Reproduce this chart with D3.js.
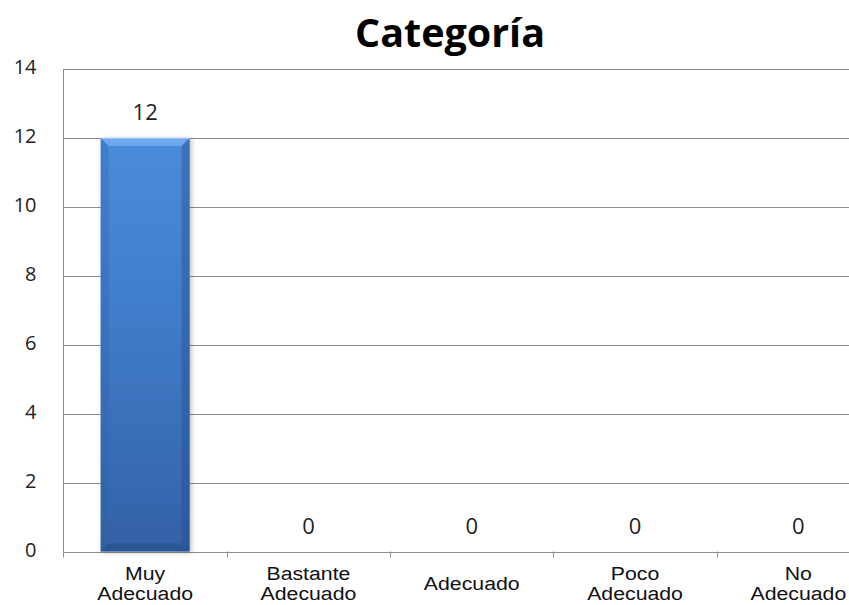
<!DOCTYPE html>
<html><head><meta charset="utf-8">
<script src="https://cdn.jsdelivr.net/npm/d3@7"></script>
<style>html,body{margin:0;padding:0;background:#fff;overflow:hidden}</style>
</head><body>
<svg id="chart" width="849" height="605"></svg>
<script>
const title = "Categoría";
const categories = [["Muy","Adecuado"],["Bastante","Adecuado"],["Adecuado"],["Poco","Adecuado"],["No","Adecuado"]];
const values = [12, 0, 0, 0, 0];
const yTicks = [0, 2, 4, 6, 8, 10, 12, 14];

(function(){
const svg = d3.select("#chart");
const pLeft = 63.5, pRight = 880, pTop = 69, pBottom = 551.5;
const x = d3.scaleBand().domain(d3.range(categories.length)).range([pLeft, pRight]).padding(0);
const y = d3.scaleLinear().domain([0, 14]).range([pBottom, pTop]);

const defs = svg.append("defs");
const g1 = defs.append("linearGradient").attr("id","barG").attr("x1",0).attr("y1",0).attr("x2",0).attr("y2",1);
g1.append("stop").attr("offset","0%").attr("stop-color","#4B8CDB");
g1.append("stop").attr("offset","45%").attr("stop-color","#3F7BC8");
g1.append("stop").attr("offset","100%").attr("stop-color","#3361A6");
const sh = defs.append("filter").attr("id","shadow").attr("x","-20%").attr("y","-5%").attr("width","140%").attr("height","110%");
sh.append("feGaussianBlur").attr("in","SourceAlpha").attr("stdDeviation",2.5);
sh.append("feOffset").attr("dx",1.5).attr("dy",1).attr("result","b");
sh.append("feComponentTransfer").append("feFuncA").attr("type","linear").attr("slope",0.25);
const m = sh.append("feMerge"); m.append("feMergeNode"); m.append("feMergeNode").attr("in","SourceGraphic");

// gridlines
svg.append("g").selectAll("line").data(yTicks).join("line")
  .attr("x1", pLeft).attr("x2", 849)
  .attr("y1", d => Math.round(y(d)) + 0.5).attr("y2", d => Math.round(y(d)) + 0.5)
  .attr("stroke", "#8c8c8c").attr("stroke-width", 1);

// y axis line
svg.append("line").attr("x1", pLeft).attr("x2", pLeft).attr("y1", pTop).attr("y2", pBottom + 6)
  .attr("stroke", "#8c8c8c");

// x tick marks
svg.append("g").selectAll("line").data(d3.range(1, categories.length)).join("line")
  .attr("x1", d => Math.round(x(d)) + 0.5).attr("x2", d => Math.round(x(d)) + 0.5)
  .attr("y1", pBottom).attr("y2", pBottom + 6).attr("stroke", "#8c8c8c");

// y tick labels
svg.append("g").selectAll("text").data(yTicks).join("text")
  .attr("x", 36.5).attr("y", d => y(d) - 1).attr("dy", "0.32em")
  .attr("text-anchor", "end")
  .attr("font-family", "'Open Sans', sans-serif").attr("font-size", 20)
  .attr("fill", "#222").text(d => d);

// bars
const bw = x.bandwidth() * 0.545;
values.forEach((d, i) => {
  if (d <= 0) return;
  const x0 = x(i) + (x.bandwidth() - bw) / 2, x1 = x0 + bw;
  const y0 = y(d), y1 = y(0);
  const b = 8;
  const g = svg.append("g");
  g.append("rect").attr("x", x0).attr("y", y0).attr("width", bw).attr("height", y1 - y0)
    .attr("fill", "url(#barG)").attr("filter", "url(#shadow)");
  g.append("polygon").attr("points", [[x0,y0],[x1,y0],[x1-b,y0+b],[x0+b,y0+b]].join(" "))
    .attr("fill", "#74ABEE").attr("opacity", 0.85);
  g.append("polygon").attr("points", [[x0,y0],[x0+b,y0+b],[x0+b,y1-b],[x0,y1]].join(" "))
    .attr("fill", "#2F5FA3").attr("opacity", 0.3);
  g.append("polygon").attr("points", [[x1,y0],[x1-b,y0+b],[x1-b,y1-b],[x1,y1]].join(" "))
    .attr("fill", "#244E8C").attr("opacity", 0.4);
  g.append("polygon").attr("points", [[x0,y1],[x0+b,y1-b],[x1-b,y1-b],[x1,y1]].join(" "))
    .attr("fill", "#22497F").attr("opacity", 0.45);
  g.append("line").attr("x1", x0).attr("x2", x1).attr("y1", y0 + 0.5).attr("y2", y0 + 0.5)
    .attr("stroke", "#9CC5F5").attr("stroke-width", 1);
});

// data labels
svg.append("g").selectAll("text").data(values).join("text")
  .attr("x", (d, i) => x(i) + x.bandwidth() / 2).attr("y", d => y(d) - 18)
  .attr("text-anchor", "middle")
  .attr("font-family", "'Open Sans', sans-serif").attr("font-size", 22)
  .attr("fill", "#222").text(d => d);

// category labels
const cl = svg.append("g").selectAll("text").data(categories).join("text")
  .attr("text-anchor", "middle")
  .attr("font-family", "'Liberation Sans', Arial, sans-serif").attr("font-size", 19)
  .attr("fill", "#111")
  .attr("transform", (d, i) => `translate(${x(i) + x.bandwidth() / 2},0) scale(1.12,1)`);
cl.each(function(d) {
  const t = d3.select(this);
  const base = d.length === 1 ? 590 : 580;
  d.forEach((line, j) => t.append("tspan").attr("x", 0).attr("y", base + j * 20).text(line));
});

// title
svg.append("text").attr("x", 450).attr("y", 47).attr("text-anchor", "middle")
  .attr("font-family", "'Open Sans', sans-serif").attr("font-weight", 700).attr("font-size", 40)
  .attr("textLength", 190).attr("lengthAdjust", "spacingAndGlyphs")
  .attr("fill", "#000").text(title);
})();
</script>
</body></html>
